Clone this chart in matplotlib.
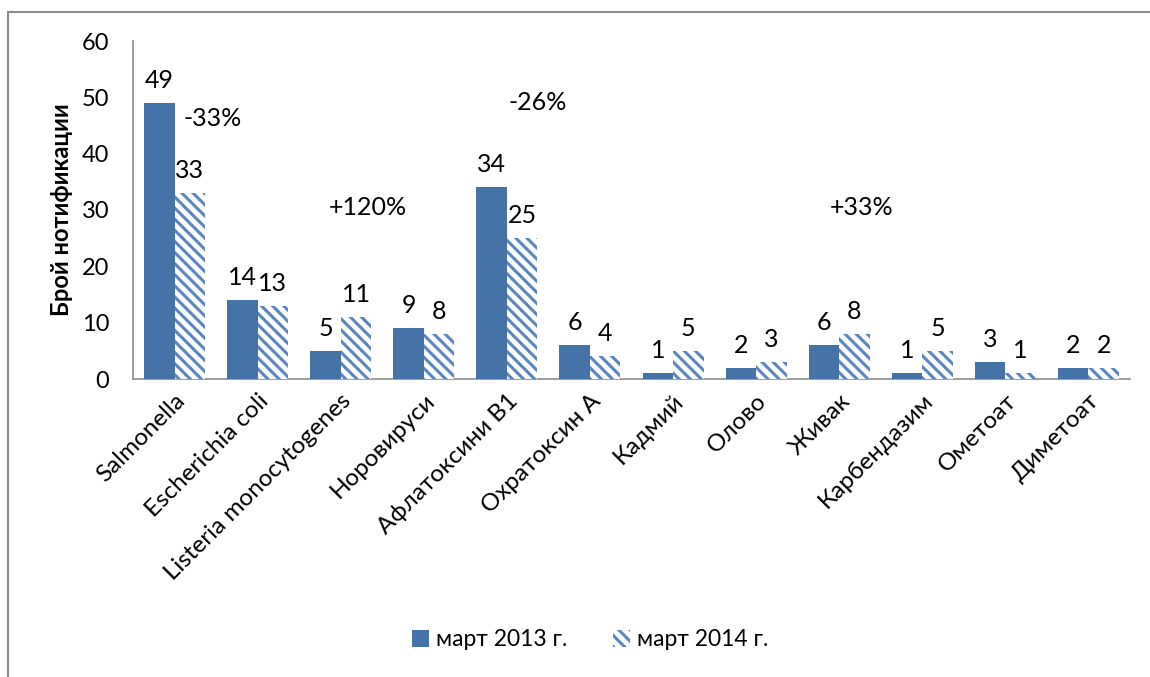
import matplotlib.pyplot as plt
import numpy as np
from matplotlib.patches import Rectangle

plt.rcParams["font.family"] = ["Lato", "DejaVu Sans"]
plt.rcParams["hatch.linewidth"] = 2.2

categories = ["Salmonella", "Escherichia coli", "Listeria monocytogenes", "Норовируси",
              "Афлатоксини B1", "Охратоксин А", "Кадмий", "Олово", "Живак",
              "Карбендазим", "Ометоат", "Диметоат"]
march_2013 = [49, 14, 5, 9, 34, 6, 1, 2, 6, 1, 3, 2]
march_2014 = [33, 13, 11, 8, 25, 4, 5, 3, 8, 5, 1, 2]
series_names = ["март 2013 г.", "март 2014 г."]
changes = ["-33%", "+120%", "-26%", "+33%"]
change_pos = [(0.46, 46.3), (2.33, 30.4), (4.37, 49.0), (8.27, 30.5)]
yticks = [0, 10, 20, 30, 40, 50, 60]

blue = '#4572A7'
fig = plt.figure(figsize=(11.5, 6.77), dpi=100)
ax = fig.add_axes([133/1150, 1-379/677, 997/1150, 338/677])

x = np.arange(len(categories))
w = 0.367
b1 = ax.bar(x - w/2, march_2013, w, color=blue, label=series_names[0], zorder=3)
b2 = ax.bar(x + w/2, march_2014, w, color='white', edgecolor='#5b86bf', linewidth=0,
            hatch='\\\\\\', label=series_names[1], zorder=3)

for bars, vals in ((b1, march_2013), (b2, march_2014)):
    for r, v in zip(bars, vals):
        ax.annotate(str(v), (r.get_x() + r.get_width()/2, r.get_height()),
                    xytext=(0, 8), textcoords='offset points', ha='center', va='bottom',
                    fontsize=18)

for t, (cx, cy) in zip(changes, change_pos):
    ax.text(cx, cy, t, ha='center', va='center', fontsize=18)

ax.set_xlim(-0.5, len(categories) - 0.5)
ax.set_ylim(0, 60)
ax.set_yticks(yticks)
ax.set_xticks(x)
ax.set_xticklabels(categories, rotation=45, ha='right', rotation_mode='anchor', fontsize=17.5)
ax.tick_params(axis='y', length=0, labelsize=17, pad=17)
ax.tick_params(axis='x', length=0, pad=8)
for s in ['top', 'right']:
    ax.spines[s].set_visible(False)
for s in ['left', 'bottom']:
    ax.spines[s].set_color('#8c8c8c')
    ax.spines[s].set_linewidth(1.2)
ax.set_ylabel('Брой нотификации', fontsize=17, weight='bold', labelpad=6)

fig.legend(loc='center', bbox_to_anchor=(590/1150, 1-640/677), ncol=2, frameon=False,
           fontsize=16.5, handlelength=0.75, handleheight=0.75, handletextpad=0.3, columnspacing=2.0)

fig.patches.append(Rectangle((8/1150, -0.1), 1.2, 1 - 12/677 + 0.1, transform=fig.transFigure,
                             fill=False, edgecolor='#8c8c8c', linewidth=1.5))

fig.savefig('out.png', dpi=100)
